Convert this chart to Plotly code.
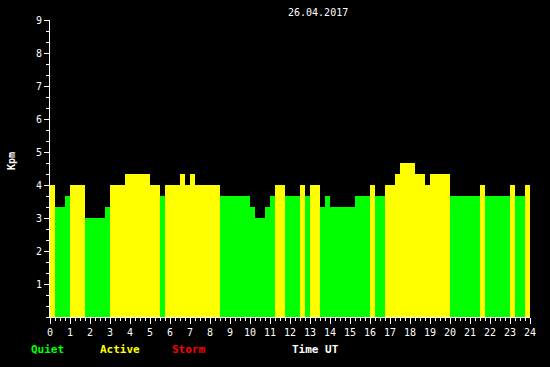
import plotly.graph_objects as go

# 15-minute Kpm values for 26.04.2017 (96 slots, 00:00-24:00 UT)
kpm_values = [
    4.00, 3.33, 3.33, 3.67, 4.00, 4.00, 4.00, 3.00,
    3.00, 3.00, 3.00, 3.33, 4.00, 4.00, 4.00, 4.33,
    4.33, 4.33, 4.33, 4.33, 4.00, 4.00, 3.67, 4.00,
    4.00, 4.00, 4.33, 4.00, 4.33, 4.00, 4.00, 4.00,
    4.00, 4.00, 3.67, 3.67, 3.67, 3.67, 3.67, 3.67,
    3.33, 3.00, 3.00, 3.33, 3.67, 4.00, 4.00, 3.67,
    3.67, 3.67, 4.00, 3.67, 4.00, 4.00, 3.33, 3.67,
    3.33, 3.33, 3.33, 3.33, 3.33, 3.67, 3.67, 3.67,
    4.00, 3.67, 3.67, 4.00, 4.00, 4.33, 4.67, 4.67,
    4.67, 4.33, 4.33, 4.00, 4.33, 4.33, 4.33, 4.33,
    3.67, 3.67, 3.67, 3.67, 3.67, 3.67, 4.00, 3.67,
    3.67, 3.67, 3.67, 3.67, 4.00, 3.67, 3.67, 4.00,
]
slot_hours = [i * 0.25 + 0.125 for i in range(len(kpm_values))]
x_ticks = list(range(0, 25))
y_ticks = list(range(1, 10))
title_text = "26.04.2017"
legend_labels = ["Quiet", "Active", "Storm"]

QUIET, ACTIVE, STORM = "#00ff00", "#ffff00", "#ff0000"

def level_color(v):
    if v >= 5:
        return STORM
    if v >= 4:
        return ACTIVE
    return QUIET

colors = [level_color(v) for v in kpm_values]

fig = go.Figure(go.Bar(
    x=slot_hours, y=kpm_values, width=0.25,
    marker=dict(color=colors, line=dict(width=0)),
    hoverinfo="skip",
))

mono = "DejaVu Sans Mono"
L, R, T, B = 50, 20, 20, 50
W, H = 550, 367
pw, ph = W - L - R, H - T - B

def px(x):
    return (x - L) / pw

def py(y):
    return (H - B - y) / ph

fig.update_layout(
    width=W, height=H,
    margin=dict(l=L, r=R, t=T, b=B, pad=0),
    paper_bgcolor="black", plot_bgcolor="black",
    bargap=0, showlegend=False,
    font=dict(family=mono, size=10, color="white"),
    xaxis=dict(
        range=[0, 24], tickvals=x_ticks, ticktext=[str(t) for t in x_ticks],
        ticks="outside", ticklen=6, tickwidth=1, tickcolor="white",
        minor=dict(dtick=0.25, ticks="outside", ticklen=3, tickcolor="white", showgrid=False),
        showgrid=False, zeroline=False,
        showline=True, linecolor="white", linewidth=1,
        tickfont=dict(family=mono, size=10, color="white"),
        fixedrange=True,
    ),
    yaxis=dict(
        range=[0, 9], tickvals=y_ticks, ticktext=[str(t) for t in y_ticks],
        ticks="outside", ticklen=5, tickwidth=1, tickcolor="white",
        minor=dict(dtick=1/3, tick0=0, ticks="outside", ticklen=3, tickcolor="white", showgrid=False),
        showgrid=False, zeroline=False,
        showline=True, linecolor="white", linewidth=1,
        tickfont=dict(family=mono, size=10, color="white"),
        fixedrange=True,
    ),
)

ann = [
    dict(text=title_text, x=px(318), y=py(12.5), color="white", size=10, angle=0),
    dict(text="<b>Kpm</b>", x=px(12), y=py(161), color="white", size=10, angle=-90),
    dict(text="<b>" + legend_labels[0] + "</b>", x=px(47), y=py(349), color=QUIET, size=11, angle=0),
    dict(text="<b>" + legend_labels[1] + "</b>", x=px(120), y=py(349), color=ACTIVE, size=11, angle=0),
    dict(text="<b>" + legend_labels[2] + "</b>", x=px(188), y=py(349), color=STORM, size=11, angle=0),
    dict(text="<b>Time UT</b>", x=px(315), y=py(349), color="white", size=11, angle=0),
]
for a in ann:
    fig.add_annotation(
        text=a["text"], x=a["x"], y=a["y"], xref="paper", yref="paper",
        xanchor="center", yanchor="middle", showarrow=False, textangle=a["angle"],
        font=dict(family=mono, size=a["size"], color=a["color"]),
    )

fig.write_html("out.html")
